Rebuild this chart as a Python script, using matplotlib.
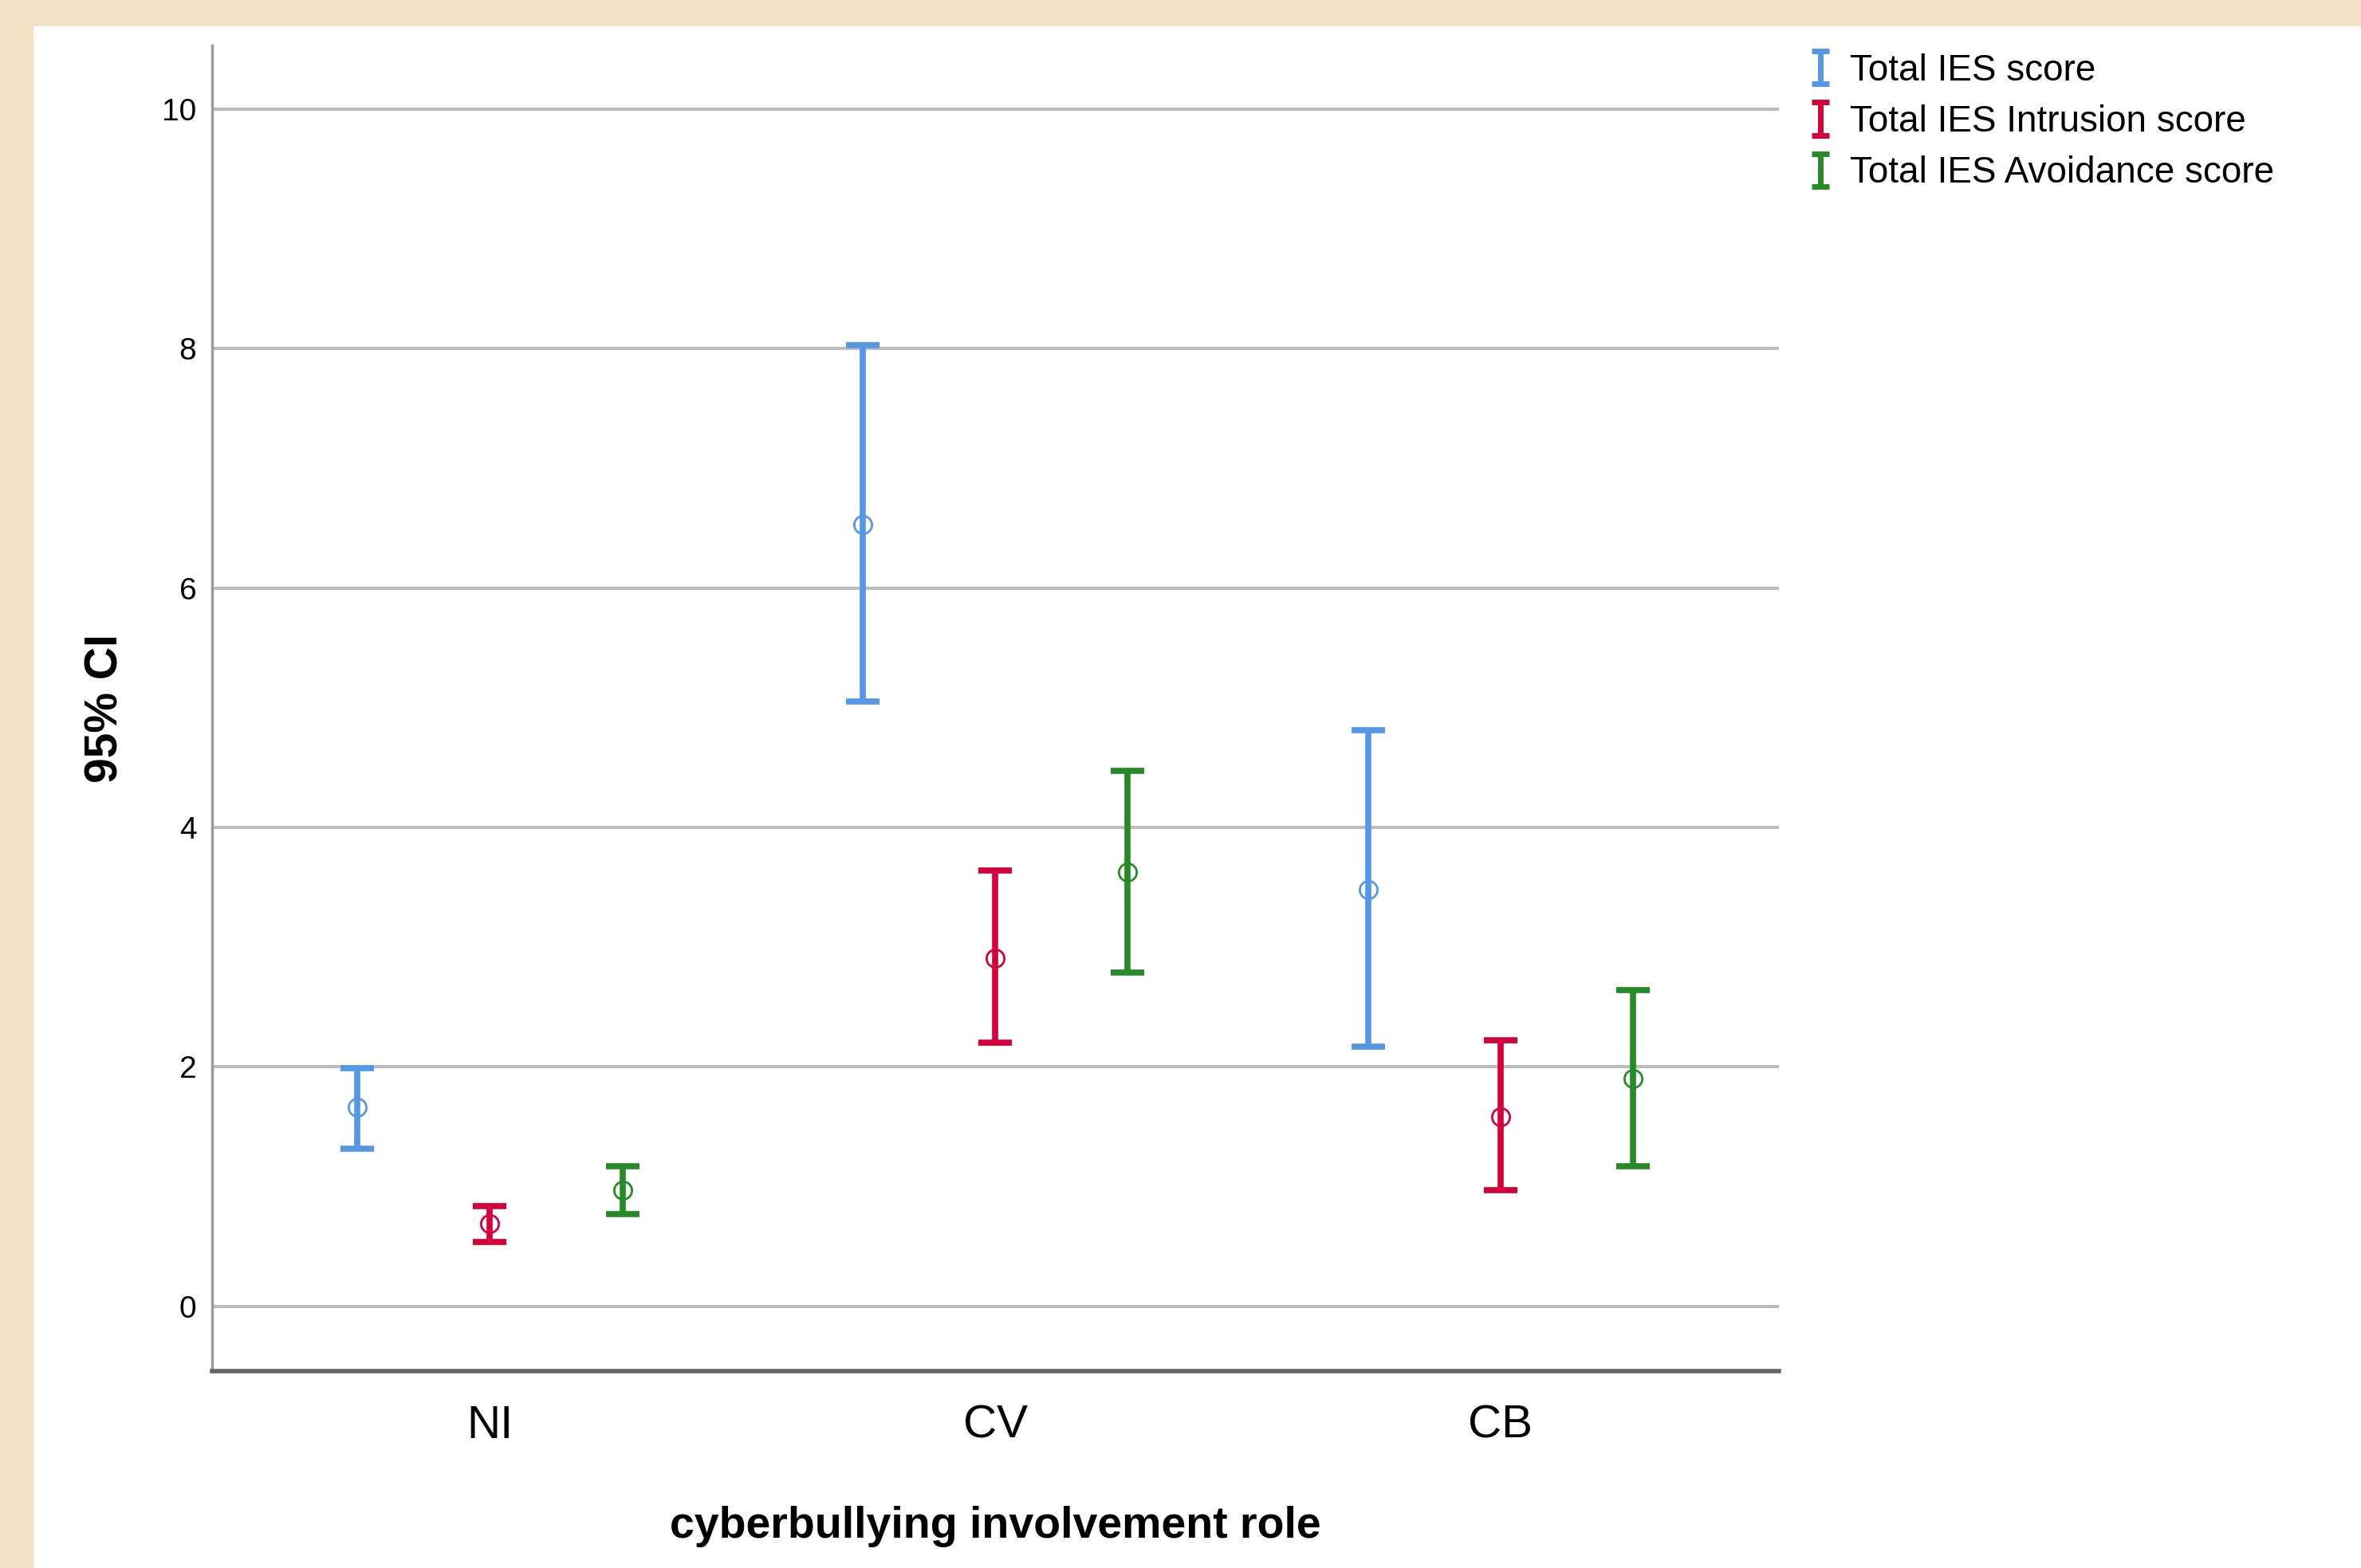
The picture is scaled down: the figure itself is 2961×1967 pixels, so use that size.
import numpy as np
import matplotlib
matplotlib.use("Agg")
import matplotlib.pyplot as plt
from matplotlib.patches import Rectangle
from matplotlib.container import ErrorbarContainer
from matplotlib.legend_handler import HandlerErrorbar

# cyberbullying role groups and the three IES measures (mean, 95% CI)
categories = ["NI", "CV", "CB"]
series_names = ["Total IES score", "Total IES Intrusion score", "Total IES Avoidance score"]
series_colors = ["#5596e6", "#d5003a", "#268a26"]

means = [
    [1.66, 6.53, 3.48],   # total
    [0.69, 2.91, 1.58],   # intrusion
    [0.97, 3.63, 1.90],   # avoidance
]
ci_low = [
    [1.32, 5.05, 2.17],
    [0.54, 2.20, 0.97],
    [0.77, 2.79, 1.17],
]
ci_high = [
    [1.99, 8.03, 4.81],
    [0.84, 3.64, 2.22],
    [1.17, 4.47, 2.64],
]

plt.rcParams['font.family'] = ['Liberation Sans', 'DejaVu Sans']

fig = plt.figure(figsize=(29.61, 19.67), dpi=100)
fig.patch.set_facecolor("#f1e2c4")
# white sheet on the beige paper
fig.patches.append(Rectangle((42 / 2961, 0), 1, 1 - 33 / 1967, transform=fig.transFigure,
                             facecolor="white", edgecolor="none", zorder=-1))

ax = fig.add_axes([0.0898, 0.1256, 0.7533 - 0.0898, 0.971 - 0.1256])
ax.set_zorder(1)
ax.set_facecolor("white")

x = np.arange(len(categories))
offset = 0.262
handles = []
for i in range(len(series_names)):
    xs = x + (i - 1) * offset
    m = np.array(means[i])
    lo = m - np.array(ci_low[i])
    hi = np.array(ci_high[i]) - m
    ax.errorbar(xs, m, yerr=[lo, hi], fmt="none", ecolor=series_colors[i],
                elinewidth=5.5, capsize=15, capthick=5.5, zorder=3)
    ax.plot(xs, m, "o", markerfacecolor="none", markeredgecolor=series_colors[i],
            markersize=16, markeredgewidth=2, zorder=4)
    # small "I" symbol for the legend
    h = ax.errorbar([np.nan], [np.nan], yerr=[[0], [0]], fmt="none", ecolor=series_colors[i],
                    elinewidth=5, capsize=8, capthick=5, label=series_names[i])
    handles.append(h)

ax.set_xlim(-0.55, 2.55)
ax.set_ylim(-0.54, 10.53)
ax.set_xticks(x)
ax.set_xticklabels(categories, fontsize=42)
ax.set_yticks([0, 2, 4, 6, 8, 10])
ax.tick_params(axis="y", length=0, pad=14, labelsize=28)
ax.tick_params(axis="x", length=0, pad=30)

ax.yaxis.grid(True, color="#bdbdbd", linewidth=3)
ax.set_axisbelow(True)

ax.spines["top"].set_visible(False)
ax.spines["right"].set_visible(False)
ax.spines["left"].set_color("#9a9a9a")
ax.spines["left"].set_linewidth(2.5)
ax.spines["bottom"].set_color("#666666")
ax.spines["bottom"].set_linewidth(4)

ax.set_xlabel("cyberbullying involvement role", fontsize=40, fontweight="bold")
ax.set_ylabel("95% CI", fontsize=41, fontweight="bold")
ax.xaxis.set_label_coords(0.5, -0.1015)
ax.yaxis.set_label_coords(-0.054, 0.5)

fig.legend(handles=handles, labels=series_names, loc="upper left",
           bbox_to_anchor=(0.768, 0.966), frameon=False, fontsize=33,
           handlelength=0.4, handletextpad=0.6, labelspacing=0.44, borderpad=0,
           borderaxespad=0,
           handler_map={ErrorbarContainer: HandlerErrorbar(yerr_size=0.45)})

fig.savefig("out.png", dpi=100, facecolor=fig.get_facecolor())
